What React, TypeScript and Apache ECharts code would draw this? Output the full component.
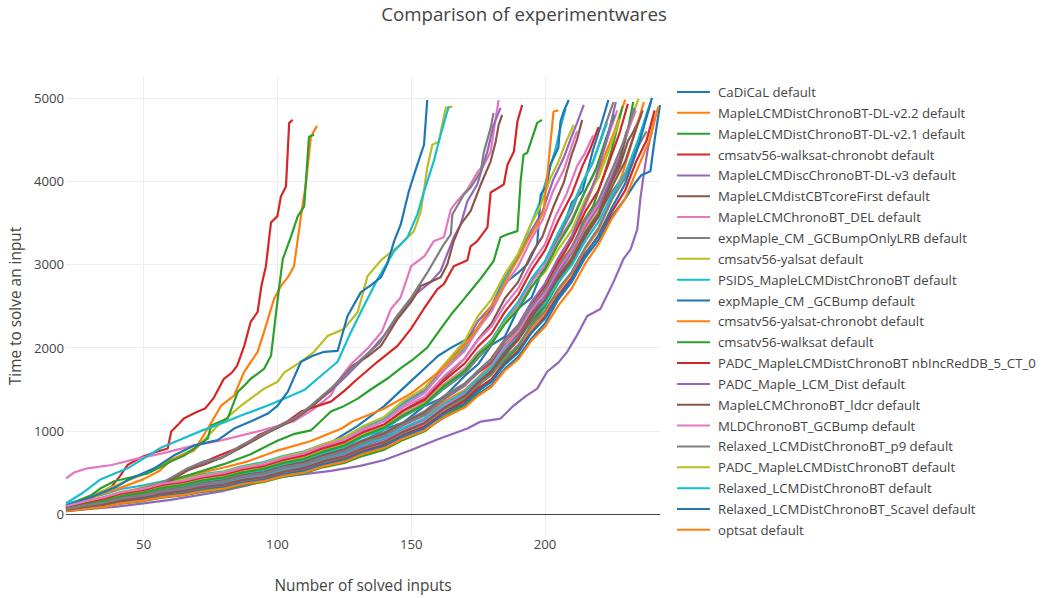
import React, { useEffect, useRef } from "react";
import * as echarts from "echarts";

const TITLE = "Comparison of experimentwares";
const X_TITLE = "Number of solved inputs";
const Y_TITLE = "Time to solve an input";
const X_TICKS = [50, 100, 150, 200];
const Y_TICKS = [0, 1000, 2000, 3000, 4000, 5000];
const COLORS = ["#1f77b4", "#ff7f0e", "#2ca02c", "#d62728", "#9467bd", "#8c564b", "#e377c2", "#7f7f7f", "#bcbd22", "#17becf"];

const LEGEND_NAMES = [
  "CaDiCaL default",
  "MapleLCMDistChronoBT-DL-v2.2 default",
  "MapleLCMDistChronoBT-DL-v2.1 default",
  "cmsatv56-walksat-chronobt default",
  "MapleLCMDiscChronoBT-DL-v3 default",
  "MapleLCMdistCBTcoreFirst default",
  "MapleLCMChronoBT_DEL default",
  "expMaple_CM _GCBumpOnlyLRB default",
  "cmsatv56-yalsat default",
  "PSIDS_MapleLCMDistChronoBT default",
  "expMaple_CM _GCBump default",
  "cmsatv56-yalsat-chronobt default",
  "cmsatv56-walksat default",
  "PADC_MapleLCMDistChronoBT nbIncRedDB_5_CT_0",
  "PADC_Maple_LCM_Dist default",
  "MapleLCMChronoBT_ldcr default",
  "MLDChronoBT_GCBump default",
  "Relaxed_LCMDistChronoBT_p9 default",
  "PADC_MapleLCMDistChronoBT default",
  "Relaxed_LCMDistChronoBT default",
  "Relaxed_LCMDistChronoBT_Scavel default",
  "optsat default",
];

const S00 = [[21,60],[28,95],[35,150],[42,180],[50,240],[57,270],[65,335],[72,365],[80,425],[87,465],[95,535],[102,575],[110,655],[117,715],[125,815],[132,870],[140,1020],[147,1100],[155,1300],[162,1400],[170,1660],[175,1800],[180,2030],[185,2130],[190,2470],[195,2600],[200,3000],[205,3280],[210,3740],[214,3880],[218,4380],[221,4680],[223.7,4975]];
const S01 = [[21,50],[28,85],[35,118],[42,172],[50,205],[57,258],[65,295],[72,350],[80,385],[87,435],[95,485],[102,545],[110,595],[117,665],[125,735],[132,830],[140,920],[147,1030],[155,1150],[162,1345],[170,1490],[175,1640],[180,1810],[185,2020],[190,2220],[195,2420],[200,2700],[205,2980],[210,3310],[214,3630],[218,3930],[222,4280],[226,4600],[228,4800],[230,4980]];
const S02 = [[21,45],[28,72],[35,98],[42,142],[50,178],[57,224],[65,256],[72,294],[80,330],[87,385],[95,425],[102,486],[110,535],[117,596],[125,655],[132,738],[140,815],[147,930],[155,1050],[162,1215],[170,1380],[175,1540],[180,1690],[185,1900],[190,2110],[195,2370],[200,2600],[205,2920],[210,3150],[214,3500],[218,3700],[222,4070],[225,4380],[227,4640],[229,4900]];
const S03 = [[21,80],[26,140],[30,190],[34,251],[38,330],[41,450],[44,590],[49,682],[54,740],[59,789],[60.3,992],[63,1080],[65,1148],[70,1230],[73,1268],[76,1387],[80,1626],[83,1700],[85,1786],[87.6,2021],[90,2308],[92.6,2428],[94,2739],[95.7,2978],[97.6,3504],[100,3580],[101.3,3815],[103.2,3935],[104.4,4700],[105.7,4736]];
const S04 = [[21,70],[28,125],[35,165],[42,235],[50,280],[57,335],[65,380],[72,425],[80,470],[87,525],[95,575],[102,648],[110,715],[117,800],[125,890],[132,1020],[140,1140],[147,1335],[155,1490],[162,1770],[170,2040],[175,2320],[180,2500],[185,2850],[190,3080],[195,3410],[199,3630],[203,4010],[207,4280],[210,4540],[212,4700],[214.5,4915]];
const S05 = [[21,55],[28,92],[35,128],[42,178],[50,217],[57,263],[65,297],[72,340],[80,377],[87,425],[95,466],[102,526],[110,575],[117,648],[125,715],[132,810],[140,895],[147,1012],[155,1125],[162,1295],[170,1440],[175,1580],[180,1710],[185,1925],[190,2090],[195,2330],[200,2510],[205,2810],[210,3040],[215,3380],[220,3600],[224,3930],[228,4180],[231,4480],[233,4590],[236,4800]];
const S06 = [[21,430],[24,500],[29,550],[38,590],[48,670],[57,730],[69,825],[79,885],[94,1005],[106,1112],[113,1250],[120,1427],[122.5,1590],[127.5,1800],[134,2000],[139,2190],[142.4,2464],[146,2600],[150,2978],[155,3100],[158.4,3277],[162.2,3325],[164.8,3660],[167.2,3759],[171,3900],[174.9,4114],[177.2,4198],[179.7,4354],[181.6,4760],[182.7,4975]];
const S07 = [[21,65],[28,108],[35,148],[42,204],[50,246],[57,294],[65,336],[72,390],[80,426],[87,486],[95,530],[102,596],[110,645],[117,718],[125,795],[132,890],[140,985],[147,1100],[155,1235],[162,1415],[170,1570],[175,1720],[180,1840],[185,2070],[190,2240],[195,2470],[200,2690],[205,2920],[210,3140],[215,3420],[220,3610],[225,3870],[230,4090],[234,4370],[238,4600]];
const S08 = [[21,110],[30,220],[40,350],[50,480],[60,650],[70,800],[77.7,1064],[86.4,1304],[95,1507],[100.1,1591],[102.5,1700],[108.8,1830],[113.7,1950],[118.8,2141],[124.9,2225],[130,2428],[133.7,2859],[138.7,3050],[146.1,3241],[151,3397],[153.6,3636],[156,4162],[157.9,4437],[160.3,4473],[162.9,4880],[165.4,4895]];
const S09 = [[21,120],[28,185],[35,236],[42,305],[50,346],[57,395],[65,430],[72,480],[80,515],[87,576],[95,625],[102,698],[110,755],[117,840],[125,915],[132,1045],[140,1140],[147,1320],[155,1470],[162,1720],[170,1990],[175,2220],[180,2470],[185,2820],[190,3090],[194,3420],[198,3740],[201,4070],[204,4390],[206,4670],[207.7,4870]];
const S10 = [[21,60],[35,160],[50,270],[65,370],[80,470],[90,550],[100,640],[110,740],[120,860],[130,1060],[140,1300],[146,1480],[150,1600],[155,1750],[160,1900],[165,2000],[171,2105],[174.7,2225],[180,2480],[186,2800],[190,2900],[193.4,3002],[197.1,3241],[198.4,3839],[200.8,3959],[202,4198],[205,4401],[205.8,4716],[207,4836],[208.9,4975]];
const S11 = [[21,70],[28,160],[35,250],[40,300],[50,420],[56,520],[60.3,650],[64,700],[68.9,765],[74,1028],[79,1304],[83.8,1423],[87.6,1710],[92.6,1949],[95,2189],[98.7,2583],[101.3,2739],[104,2850],[106.2,2978],[108.8,3576],[110.7,3982],[112.5,4533],[114.8,4664]];
const S12 = [[21,90],[25,150],[30,220],[34,311],[39,395],[45,440],[51.6,490],[56,560],[60.3,634],[65,700],[68.9,789],[74,909],[75.2,1064],[81.4,1148],[85.2,1469],[87.5,1540],[90,1626],[95,1746],[97.6,1902],[100.1,2583],[102,3062],[105.1,3337],[107.6,3576],[110,3696],[111.8,4533],[113.7,4557]];
const S13 = [[21,60],[30,120],[40,200],[50,290],[60,400],[68.9,574],[78,700],[87.5,825],[93,950],[98.7,1028],[104,1120],[108.8,1232],[115,1300],[120,1351],[125,1480],[130,1626],[137.4,1830],[144.9,2021],[149.9,2225],[154.7,2464],[159.8,2703],[162.2,2763],[165.9,2978],[171,3050],[172.2,3217],[174.7,3280],[178.5,3445],[179.7,3863],[184.6,3959],[186,4198],[188.4,4357],[189.7,4716],[191.5,4915]];
const S14 = [[21,35],[30,62],[40,90],[50,128],[60,170],[70,225],[80,280],[90,355],[100,440],[110,480],[120,520],[131,580],[140,650],[150,770],[160,900],[171,1028],[176,1112],[183.4,1148],[188.3,1304],[193,1420],[197.1,1507],[200.8,1710],[205,1820],[208.3,1949],[212,2150],[215.8,2380],[220.7,2464],[225.6,2787],[229.3,3062],[232,3181],[234.5,3420],[235.7,3800],[237,4100],[238.5,4400],[240,4600],[241,4750]];
const S15 = [[21,80],[28,128],[35,166],[42,225],[50,266],[57,320],[65,356],[72,405],[80,446],[87,506],[95,555],[102,628],[110,685],[117,770],[125,850],[132,975],[140,1070],[147,1245],[155,1390],[162,1620],[170,1870],[175,2100],[180,2290],[185,2590],[190,2790],[195,3130],[199,3330],[203,3680],[207,3980],[210,4320],[212,4500],[213.9,4736]];
const S16 = [[21,90],[28,148],[35,196],[42,255],[50,296],[57,355],[65,396],[72,446],[80,486],[87,546],[95,596],[102,668],[110,725],[117,810],[125,892],[132,1015],[140,1120],[147,1300],[155,1455],[162,1720],[170,1960],[175,2230],[180,2430],[185,2750],[190,2980],[195,3310],[199,3530],[203,3880],[207,4130],[210,4420],[212,4600]];
const S17 = [[21,75],[28,118],[35,156],[42,214],[50,256],[57,310],[65,346],[72,400],[80,436],[87,496],[95,540],[102,608],[110,660],[117,740],[125,822],[132,935],[140,1030],[147,1170],[155,1310],[162,1500],[170,1690],[175,1875],[180,2035],[185,2305],[190,2480],[195,2810],[200,2980],[205,3330],[210,3630],[214,3980],[218,4230],[222,4620],[225.6,4950]];
const S18 = [[21,100],[28,158],[35,206],[42,270],[50,316],[57,375],[65,416],[72,466],[80,506],[87,566],[95,610],[102,688],[110,745],[117,840],[125,922],[132,1055],[140,1170],[147,1360],[155,1515],[162,1785],[170,2080],[175,2380],[180,2580],[185,2880],[190,3130],[194,3430],[198,3680],[202,4030],[205,4230],[208,4480],[210.7,4676]];
const S19 = [[21,130],[27,250],[34,420],[44,550],[56.6,800],[64,900],[71.5,1000],[80,1100],[86.4,1184],[96.4,1304],[105.1,1423],[110,1490],[116.3,1662],[122.5,1830],[127.5,2189],[132.3,2500],[137.4,2822],[143.6,3157],[148.6,3325],[152.3,3600],[154.8,3875],[158.4,4234],[161,4557],[164,4895]];
const S20 = [[21,40],[28,67],[35,93],[42,133],[50,167],[57,208],[65,237],[72,284],[80,316],[87,366],[95,405],[102,468],[110,515],[117,588],[125,645],[132,730],[140,805],[147,912],[155,1012],[162,1155],[170,1290],[175,1440],[180,1550],[185,1745],[190,1890],[195,2110],[200,2290],[205,2580],[210,2790],[215,3080],[220,3290],[225,3580],[230,3790],[234,3990],[236,4070],[239.4,4118],[241,4500],[243,4915]];
const S21 = [[21,80],[35,200],[50,320],[65,450],[80,560],[89,634],[99,753],[112,873],[124,1028],[128,1112],[140,1268],[150,1450],[160,1700],[168,1950],[174,2200],[178.5,2428],[183.4,2667],[187,2900],[190.9,3121],[193.4,3281],[197.1,3480],[199.5,3640],[200.8,4043],[202,4437],[203.2,4836],[205,4850]];
const S22 = [[21,100],[30,160],[40,230],[50,310],[60,400],[70,500],[80,600],[90,720],[100,880],[106,960],[112.5,1005],[120,1232],[125,1300],[130,1387],[135,1500],[141,1626],[146,1750],[151,1866],[156,2000],[161,2225],[165,2400],[169.7,2583],[176,2830],[180.8,3038],[183.4,3325],[186,3361],[189.7,3400],[190.9,3998],[192,4318],[193.4,4342],[197.1,4700],[198.9,4736]];
const S23 = [[21,60],[28,103],[35,137],[42,190],[50,226],[57,275],[65,306],[72,360],[80,396],[87,452],[95,496],[102,558],[110,610],[117,690],[125,762],[132,865],[140,950],[147,1075],[155,1190],[162,1380],[170,1550],[175,1720],[180,1870],[185,2100],[190,2270],[195,2530],[200,2740],[205,3030],[210,3290],[215,3630],[220,3890],[224,4230],[228,4590],[231,4930]];
const S24 = [[21,70],[30,130],[40,200],[53,320],[60,420],[66,540],[72,620],[79,680],[86,800],[96,980],[106,1140],[112,1280],[120,1480],[127,1700],[132,1860],[140,2150],[147,2450],[152,2650],[157,2780],[161,2922],[165.9,3325],[168.5,3480],[171,3759],[174.7,3959],[178.5,4357],[180.8,4676],[183.4,4880]];
const S25 = [[21,75],[30,135],[40,205],[53,300],[60,410],[66,520],[73,600],[80,690],[87,810],[96,970],[106,1130],[113,1290],[120,1500],[128,1780],[134,1900],[138.7,2021],[144.9,2344],[150,2550],[153.6,2739],[158,2800],[161,2846],[163.5,3002],[165.9,3281],[168.5,3480],[172.2,3640],[176,3959],[179.7,4238],[181.6,4477],[182.7,4676],[184,4795]];
const S26 = [[21,85],[28,134],[35,176],[42,236],[50,276],[57,330],[65,366],[72,416],[80,456],[87,518],[95,560],[102,630],[110,685],[117,772],[125,845],[132,965],[140,1060],[147,1210],[155,1340],[162,1555],[170,1750],[175,1945],[180,2090],[185,2330],[190,2510],[195,2780],[200,2990],[205,3280],[210,3540],[215,3880],[220,4190],[224,4570],[227,4850]];
const S27 = [[21,85],[30,140],[40,210],[52.8,311],[60,430],[66.5,550],[72.6,634],[79,670],[86.4,825],[96.4,992],[106.2,1148],[112.5,1304],[120,1510],[126,1700],[132,1880],[138,2050],[144,2350],[150,2600],[156,2900],[162.2,3241],[164.8,3361],[165.4,3600],[169.7,3839],[172.2,3923],[176,4114],[177.2,4354],[179.7,4640],[180.8,4820]];
const S28 = [[21,50],[28,83],[35,112],[42,158],[50,196],[57,245],[65,276],[72,325],[80,356],[87,406],[95,446],[102,508],[110,555],[117,632],[125,695],[132,792],[140,875],[147,995],[155,1100],[162,1280],[170,1430],[175,1600],[180,1740],[185,1975],[190,2140],[195,2410],[200,2610],[205,2880],[210,3090],[215,3410],[220,3640],[225,4030],[228,4290],[232,4720],[235,4990]];
const S29 = [[21,70],[28,113],[35,151],[42,210],[50,246],[57,300],[65,336],[72,392],[80,426],[87,488],[95,530],[102,598],[110,650],[117,730],[125,808],[132,925],[140,1020],[147,1180],[155,1310],[162,1520],[170,1720],[175,1925],[180,2090],[185,2345],[190,2550],[195,2830],[200,3040],[205,3380],[210,3690],[214,3980],[218,4240],[221,4500],[223.2,4700]];
const S30 = [[21,100],[30,200],[40,330],[44,410],[54,550],[61.4,706],[68.9,825],[77.7,889],[83.8,1028],[90,1112],[96.4,1208],[100,1300],[103.9,1471],[108.8,1830],[113,1900],[117.5,1950],[122.5,1960],[126.2,2380],[131.2,2667],[135,2750],[138.7,2846],[141,3000],[143.6,3277],[146.1,3480],[149.1,3875],[152.3,4198],[154.8,4437],[156,4975]];
const S31 = [[21,40],[28,70],[35,98],[42,143],[50,177],[57,218],[65,246],[72,294],[80,326],[87,380],[95,416],[102,476],[110,525],[117,598],[125,655],[132,750],[140,825],[147,942],[155,1045],[162,1195],[170,1340],[175,1480],[180,1600],[185,1810],[190,1970],[195,2225],[200,2410],[205,2680],[210,2890],[215,3180],[220,3410],[225,3780],[229,4090],[233,4520],[237,4950]];
const S32 = [[21,35],[28,62],[35,88],[42,128],[50,157],[57,198],[65,227],[72,268],[80,297],[87,350],[95,386],[102,446],[110,490],[117,562],[125,615],[132,700],[140,775],[147,892],[155,995],[162,1165],[170,1310],[175,1470],[180,1610],[185,1840],[190,2010],[195,2285],[200,2490],[205,2780],[210,3010],[215,3330],[220,3590],[224,3930],[228,4240],[231,4620],[233,4950]];
const S33 = [[21,45],[28,74],[35,102],[42,148],[50,182],[57,224],[65,256],[72,305],[80,336],[87,390],[95,426],[102,486],[110,535],[117,608],[125,665],[132,760],[140,835],[147,952],[155,1055],[162,1215],[170,1360],[175,1510],[180,1620],[185,1810],[190,1960],[195,2185],[200,2370],[205,2630],[210,2840],[215,3130],[220,3340],[225,3630],[230,3890],[234,4230],[238,4490],[241,4850]];
const S34 = [[21,55],[28,90],[35,122],[42,172],[50,206],[57,254],[65,286],[72,335],[80,366],[87,420],[95,456],[102,517],[110,565],[117,638],[125,705],[132,802],[140,885],[147,1002],[155,1115],[162,1285],[170,1450],[175,1620],[180,1770],[185,1995],[190,2160],[195,2430],[200,2620],[205,2900],[210,3140],[215,3450],[220,3690],[224,3980],[228,4290],[232,4700]];
const S35 = [[21,65],[28,105],[35,142],[42,196],[50,236],[57,285],[65,316],[72,370],[80,406],[87,466],[95,505],[102,572],[110,625],[117,705],[125,775],[132,878],[140,968],[147,1095],[155,1215],[162,1390],[170,1550],[175,1700],[180,1820],[185,2025],[190,2170],[195,2410],[200,2570],[205,2830],[210,3040],[215,3330],[220,3570],[225,3930],[230,4240],[234,4620],[236.5,4850]];
const S36 = [[21,50],[28,84],[35,117],[42,165],[50,201],[57,249],[65,281],[72,330],[80,361],[87,415],[95,451],[102,512],[110,560],[117,638],[125,700],[132,795],[140,880],[147,1002],[155,1115],[162,1298],[170,1460],[175,1632],[180,1780],[185,2015],[190,2190],[195,2460],[200,2660],[205,2950],[210,3170],[215,3480],[220,3740],[225,4130],[229,4440],[234,4850]];
const S37 = [[21,45],[28,77],[35,107],[42,153],[50,186],[57,229],[65,261],[72,310],[80,341],[87,395],[95,436],[102,497],[110,545],[117,622],[125,685],[132,780],[140,860],[147,978],[155,1085],[162,1248],[170,1400],[175,1552],[180,1670],[185,1875],[190,2030],[195,2265],[200,2440],[205,2705],[210,2910],[215,3200],[220,3440],[225,3780],[230,4040],[235,4480],[239.5,4950]];
const S38 = [[21,80],[28,128],[35,171],[42,230],[50,271],[57,325],[65,361],[72,415],[80,451],[87,512],[95,555],[102,622],[110,675],[117,760],[125,835],[132,952],[140,1050],[147,1198],[155,1330],[162,1540],[170,1730],[175,1925],[180,2070],[185,2305],[190,2470],[195,2730],[200,2910],[205,3180],[210,3410],[215,3780],[220,4040],[224,4380],[228,4750]];
const S39 = [[21,55],[28,93],[35,127],[42,178],[50,216],[57,265],[65,296],[72,345],[80,381],[87,437],[95,476],[102,537],[110,590],[117,668],[125,735],[132,832],[140,915],[147,1035],[155,1145],[162,1318],[170,1470],[175,1632],[180,1760],[185,1975],[190,2120],[195,2360],[200,2530],[205,2790],[210,2990],[215,3280],[220,3510],[225,3830],[230,4090],[235,4510],[239,4900]];
const S40 = [[21,40],[28,70],[35,97],[42,141],[50,171],[57,214],[65,241],[72,290],[80,321],[87,376],[95,411],[102,472],[110,520],[117,594],[125,650],[132,742],[140,820],[147,938],[155,1035],[162,1198],[170,1330],[175,1482],[180,1590],[185,1795],[190,1940],[195,2180],[200,2350],[205,2610],[210,2820],[215,3110],[220,3350],[225,3680],[230,3970],[235,4430],[240,5000]];
const S41 = [[21,35],[28,62],[35,87],[42,131],[50,162],[57,204],[65,231],[72,275],[80,306],[87,362],[95,396],[102,457],[110,500],[117,574],[125,630],[132,722],[140,795],[147,908],[155,1005],[162,1158],[170,1280],[175,1422],[180,1530],[185,1725],[190,1860],[195,2085],[200,2250],[205,2505],[210,2710],[215,3005],[220,3240],[225,3550],[230,3790],[235,4180],[239,4490],[242.4,4900]];
const S42 = [[21,75],[28,123],[35,161],[42,220],[50,261],[57,315],[65,351],[72,405],[80,441],[87,502],[95,546],[102,612],[110,665],[117,750],[125,825],[132,942],[140,1040],[147,1188],[155,1320],[162,1530],[170,1720],[175,1915],[180,2050],[185,2285],[190,2460],[195,2730],[200,2940],[205,3250],[210,3510],[215,3880],[219,4140],[223,4530],[226,4800]];
const S43 = [[21,90],[28,143],[35,186],[42,250],[50,291],[57,350],[65,386],[72,440],[80,476],[87,538],[95,580],[102,652],[110,705],[117,790],[125,865],[132,985],[140,1080],[147,1240],[155,1370],[162,1595],[170,1810],[175,2015],[180,2170],[185,2430],[190,2630],[195,2930],[200,3170],[205,3530],[210,3840],[214,4180],[217,4390],[220,4650]];
const S44 = [[21,60],[28,101],[35,132],[42,184],[50,221],[57,270],[65,301],[72,355],[80,391],[87,447],[95,486],[102,552],[110,600],[117,680],[125,750],[132,855],[140,940],[147,1068],[155,1185],[162,1372],[170,1540],[175,1715],[180,1850],[185,2090],[190,2270],[195,2550],[200,2770],[205,3080],[210,3340],[215,3730],[219,4040],[223,4480],[226.5,4950]];
const S45 = [[21,50],[28,85],[35,117],[42,163],[50,197],[57,244],[65,276],[72,325],[80,356],[87,411],[95,446],[102,507],[110,555],[117,633],[125,695],[132,792],[140,870],[147,990],[155,1095],[162,1270],[170,1420],[175,1585],[180,1720],[185,1945],[190,2110],[195,2370],[200,2570],[205,2860],[210,3070],[215,3380],[220,3610],[224,3930],[228,4240],[230.5,4600]];
const S46 = [[21,95],[28,153],[35,201],[42,265],[50,306],[57,366],[65,401],[72,456],[80,496],[87,556],[95,600],[102,672],[110,730],[117,820],[125,895],[132,1018],[140,1115],[147,1282],[155,1410],[162,1648],[170,1870],[175,2090],[180,2250],[185,2510],[190,2710],[195,3010],[200,3240],[204,3580],[208,3840],[212,4180],[215,4340],[218,4550]];
const S47 = [[21,60],[28,101],[35,137],[42,192],[50,231],[57,280],[65,311],[72,363],[80,396],[87,455],[95,491],[102,558],[110,605],[117,685],[125,755],[132,858],[140,945],[147,1075],[155,1195],[162,1382],[170,1550],[175,1725],[180,1860],[185,2080],[190,2240],[195,2500],[200,2690],[205,2980],[210,3210],[215,3530],[220,3770],[225,4130],[229,4440],[233.5,4880]];

const SERIES_DATA = [S00,S01,S02,S03,S04,S05,S06,S07,S08,S09,S10,S11,S12,S13,S14,S15,S16,S17,S18,S19,S20,S21,S22,S23,S24,S25,S26,S27,S28,S29,S30,S31,S32,S33,S34,S35,S36,S37,S38,S39,S40,S41,S42,S43,S44,S45,S46,S47];

const FONT = "'Open Sans', verdana, arial, sans-serif";

export default function App() {
  const ref = useRef<HTMLDivElement>(null);
  useEffect(() => {
    if (!ref.current) return;
    const chart = echarts.init(ref.current, undefined, { renderer: "svg" });
    const series: any[] = SERIES_DATA.map((d, i) => {
      const s: any = {
        type: "line",
        data: d,
        showSymbol: false,
        symbol: "none",
        lineStyle: { width: 2.2 },
        emphasis: { disabled: true },
      };
      s.name = i < LEGEND_NAMES.length ? LEGEND_NAMES[i] : "solver " + (i + 1);
      if (i === 0) {
        s.markLine = {
          silent: true,
          symbol: ["none", "none"],
          label: { show: false },
          lineStyle: { color: "#444", width: 1, type: "solid" },
          data: [{ yAxis: 0 }],
        };
      }
      return s;
    });
    chart.setOption({
      animation: false,
      color: COLORS,
      textStyle: { fontFamily: FONT },
      title: {
        text: TITLE,
        left: 524,
        textAlign: "center",
        top: 4,
        padding: 0,
        textStyle: { fontFamily: FONT, fontSize: 18.7, fontWeight: "normal", color: "#444" },
      },
      legend: {
        data: LEGEND_NAMES,
        orient: "vertical",
        left: 677,
        top: 85,
        padding: 0,
        itemWidth: 33,
        itemHeight: 2,
        itemGap: 6.85,
        icon: "rect",
        textStyle: { fontFamily: FONT, fontSize: 13.2, color: "#444", lineHeight: 14, padding: [0, 0, 0, 3] },
        selectedMode: false,
      },
      grid: { left: 63, right: 381, top: 76, bottom: 60, containLabel: false },
      xAxis: {
        type: "value",
        min: 21,
        max: 243,
        name: X_TITLE,
        nameLocation: "middle",
        nameGap: 42,
        nameTextStyle: { fontFamily: FONT, fontSize: 15.4, color: "#444" },
        axisLine: { show: false },
        axisTick: { show: false, customValues: X_TICKS },
        axisLabel: { customValues: X_TICKS, margin: 1, fontFamily: FONT, fontSize: 13.2, color: "#444", formatter: (v: number) => String(v) },
        splitLine: { show: true, lineStyle: { color: "#eee", width: 1 } },
      },
      yAxis: {
        type: "value",
        min: -263,
        max: 5263,
        name: Y_TITLE,
        nameLocation: "middle",
        nameGap: 37,
        nameTextStyle: { fontFamily: FONT, fontSize: 15.4, color: "#444" },
        axisLine: { show: false },
        axisTick: { show: false, customValues: Y_TICKS },
        axisLabel: { customValues: Y_TICKS, margin: 2, fontFamily: FONT, fontSize: 13.2, color: "#444", formatter: (v: number) => String(v) },
        splitLine: { show: true, lineStyle: { color: "#eee", width: 1 } },
      },
      series,
    });
    return () => chart.dispose();
  }, []);
  return <div ref={ref} style={{ position: "absolute", left: 0, top: 0, width: 1041, height: 598 }} />;
}
